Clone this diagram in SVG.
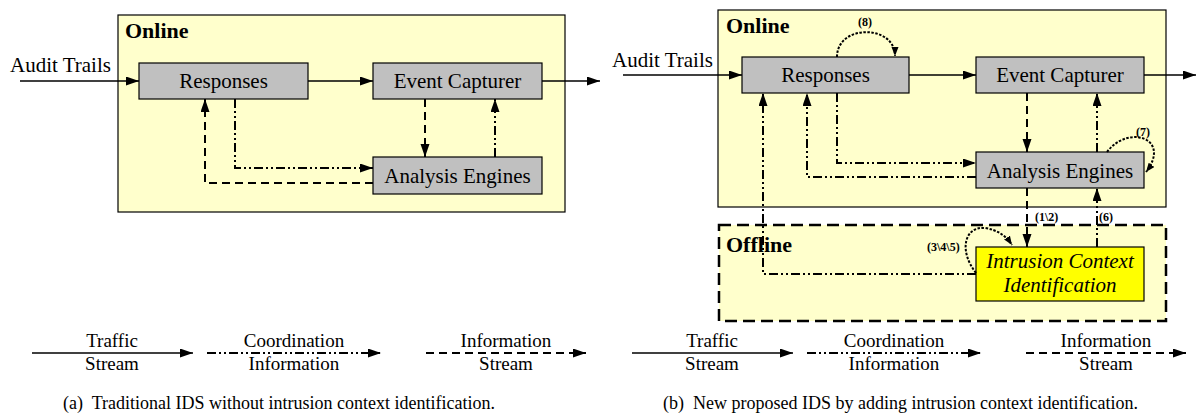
<svg xmlns="http://www.w3.org/2000/svg" width="1198" height="413" viewBox="0 0 1198 413" font-family="'Liberation Serif', 'Times New Roman', serif">
  <style>
    text { font-family: 'Liberation Serif', 'Times New Roman', serif; fill: #000; white-space: pre; }
    .title { font-size: 22px; font-weight: bold; }
    .lbl { font-size: 21px; }
    .node { font-size: 21px; text-anchor: middle; }
    .ici { font-size: 21px; font-style: italic; text-anchor: middle; }
    .leg { font-size: 19px; text-anchor: middle; }
    .cap { font-size: 18px; }
    .step { font-size: 12px; font-weight: bold; }
    .zone { fill: #ffffcc; stroke: #000; stroke-width: 1.2; }
    .zone-off { fill: #ffffcc; stroke: #000; stroke-width: 2.5; stroke-dasharray: 12 6; }
    .box { fill: #c0c0c0; stroke: #000; stroke-width: 1.2; }
    .box-ici { fill: #ffff00; stroke: #000; stroke-width: 1.2; }
    .traffic { fill: none; stroke: #000; stroke-width: 1.4; marker-end: url(#ah); }
    .coord { fill: none; stroke: #000; stroke-width: 2; stroke-dasharray: 9 3 2 3 2 3; marker-end: url(#ah); }
    .info { fill: none; stroke: #000; stroke-width: 2; stroke-dasharray: 8 5; marker-end: url(#ah); }
    .loop { fill: none; stroke: #000; stroke-width: 2; stroke-dasharray: 2.5 1.5; marker-end: url(#ahs); }
  </style>
  <defs>
    <marker id="ah" markerUnits="userSpaceOnUse" markerWidth="14" markerHeight="10" refX="13" refY="4.5" orient="auto">
      <path d="M0,0 L13,4.5 L0,9 z" fill="#000"/>
    </marker>
    <marker id="ahs" markerUnits="userSpaceOnUse" markerWidth="10" markerHeight="8" refX="9" refY="3.5" orient="auto">
      <path d="M0,0 L9,3.5 L0,7 z" fill="#000"/>
    </marker>
  </defs>

  <!-- ===== (a) traditional IDS ===== -->
  <g id="a-online">
    <rect class="zone" x="118" y="15" width="447" height="197"/>
    <text class="title" x="125" y="38">Online</text>
  </g>
  <g id="a-audit">
    <text class="lbl" x="10" y="72">Audit Trails</text>
  </g>
  <g id="a-responses">
    <rect class="box" x="139" y="63" width="169" height="36"/>
    <text class="node" x="223.5" y="88">Responses</text>
  </g>
  <g id="a-event">
    <rect class="box" x="373" y="63" width="169" height="36"/>
    <text class="node" x="457.5" y="88">Event Capturer</text>
  </g>
  <g id="a-analysis">
    <rect class="box" x="373" y="157" width="169" height="37"/>
    <text class="node" x="457.5" y="183">Analysis Engines</text>
  </g>
  <g id="a-connectors">
    <path class="traffic" d="M20,81 H139"/>
    <path class="traffic" d="M308,81 H373"/>
    <path class="traffic" d="M542,81 H600"/>
    <path class="coord" d="M235,99 V168 H373"/>
    <path class="info" d="M373,183 H205 V99"/>
    <path class="info" d="M425,99 V157"/>
    <path class="coord" d="M495,157 V99"/>
  </g>
  <g id="a-legend">
    <path class="traffic" d="M32,353 H193"/>
    <text class="leg" x="112" y="347">Traffic</text>
    <text class="leg" x="112" y="370">Stream</text>
    <path class="coord" d="M207,353 H381"/>
    <text class="leg" x="294" y="347">Coordination</text>
    <text class="leg" x="294" y="370">Information</text>
    <path class="info" d="M426,353 H586"/>
    <text class="leg" x="506" y="347">Information</text>
    <text class="leg" x="506" y="370">Stream</text>
  </g>
  <text class="cap" x="63" y="409">(a)  Traditional IDS without intrusion context identification.</text>

  <!-- ===== (b) proposed IDS ===== -->
  <g id="b-online">
    <rect class="zone" x="718" y="10" width="448" height="197"/>
    <text class="title" x="726" y="33">Online</text>
  </g>
  <g id="b-offline">
    <rect class="zone-off" x="719" y="225" width="447" height="96"/>
    <text class="title" x="726" y="252">Offline</text>
  </g>
  <g id="b-audit">
    <text class="lbl" x="612" y="67">Audit Trails</text>
  </g>
  <g id="b-responses">
    <rect class="box" x="742" y="57" width="167" height="36"/>
    <text class="node" x="825.5" y="82">Responses</text>
  </g>
  <g id="b-event">
    <rect class="box" x="976" y="57" width="168" height="36"/>
    <text class="node" x="1060" y="82">Event Capturer</text>
  </g>
  <g id="b-analysis">
    <rect class="box" x="976" y="152" width="168" height="36"/>
    <text class="node" x="1060" y="178">Analysis Engines</text>
  </g>
  <g id="b-ici">
    <rect class="box-ici" x="976" y="247" width="168" height="54"/>
    <text class="ici" x="1060" y="268">Intrusion Context</text>
    <text class="ici" x="1060" y="292">Identification</text>
  </g>
  <g id="b-connectors">
    <path class="traffic" d="M623,75 H742"/>
    <path class="traffic" d="M909,75 H976"/>
    <path class="traffic" d="M1144,75 H1196"/>
    <path class="coord" d="M837,93 V163 H976"/>
    <path class="coord" d="M976,177 H807 V93"/>
    <path class="coord" d="M976,274 H763 V93"/>
    <path class="info" d="M1027,93 V152"/>
    <path class="coord" d="M1097,152 V93"/>
    <path class="info" d="M1027,188 V247"/>
    <path class="coord" d="M1097,247 V188"/>
    <path class="loop" d="M837,57 C837,24 895,24 895,56"/>
    <path class="loop" d="M1107,152 C1128,124 1172,138 1146,172"/>
    <path class="loop" d="M976,273 C958,250 965,226 985,228 C998,230 1006,236 1012,245"/>
  </g>
  <g id="b-steps">
    <text class="step" x="858" y="26">(8)</text>
    <text class="step" x="1136" y="136">(7)</text>
    <text class="step" x="1035" y="221">(1\2)</text>
    <text class="step" x="1099" y="221">(6)</text>
    <text class="step" x="927" y="251">(3\4\5)</text>
  </g>
  <g id="b-legend">
    <path class="traffic" d="M632,353 H793"/>
    <text class="leg" x="712" y="347">Traffic</text>
    <text class="leg" x="712" y="370">Stream</text>
    <path class="coord" d="M807,353 H981"/>
    <text class="leg" x="894" y="347">Coordination</text>
    <text class="leg" x="894" y="370">Information</text>
    <path class="info" d="M1026,353 H1186"/>
    <text class="leg" x="1106" y="347">Information</text>
    <text class="leg" x="1106" y="370">Stream</text>
  </g>
  <text class="cap" x="663" y="409">(b)  New proposed IDS by adding intrusion context identification.</text>
</svg>
